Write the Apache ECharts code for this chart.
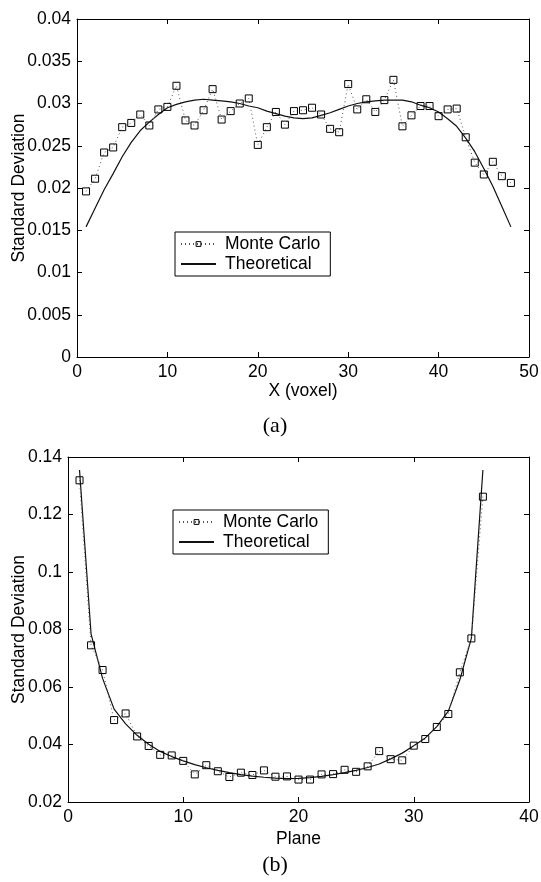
<!DOCTYPE html>
<html>
<head>
<meta charset="utf-8">
<title>Standard Deviation: Monte Carlo vs Theoretical</title>
<script src="https://cdn.jsdelivr.net/npm/echarts@6/dist/echarts.min.js"></script>
<style>
  html, body { margin: 0; padding: 0; background: #fff; }
  #chart { width: 541px; height: 882px; }
</style>
</head>
<body>
<div id="chart"></div>
<script>
// (a) standard deviation along X, voxels 1..48
const voxelX = Array.from({ length: 48 }, (_, i) => i + 1);
const voxelMonteCarlo = [
  0.0196, 0.0211, 0.0242, 0.0248, 0.0272, 0.0277, 0.0287, 0.0274, 0.0293, 0.0296,
  0.0321, 0.0280, 0.0274, 0.0292, 0.0317, 0.0281, 0.0291, 0.0300, 0.0306, 0.0251,
  0.0272, 0.0290, 0.0275, 0.0291, 0.0292, 0.0295, 0.0287, 0.0270, 0.0266, 0.0323,
  0.0293, 0.0305, 0.0290, 0.0304, 0.0328, 0.0273, 0.0286, 0.0297, 0.0297, 0.0285,
  0.0293, 0.0294, 0.0260, 0.0230, 0.0216, 0.0231, 0.0214, 0.0206
];
const voxelTheoretical = [
  0.0154, 0.0176, 0.0198, 0.0217, 0.0237, 0.0254, 0.0268, 0.0278, 0.0287, 0.0295,
  0.0299, 0.0302, 0.0304, 0.0305, 0.0304, 0.0303, 0.0302, 0.0300, 0.0297, 0.0295,
  0.0291, 0.0288, 0.0285, 0.0283, 0.0282, 0.0283, 0.0286, 0.0289, 0.0293, 0.0297,
  0.0300, 0.0302, 0.0303, 0.0304, 0.0304, 0.0304, 0.0302, 0.0298, 0.0295, 0.0290,
  0.0282, 0.0273, 0.0259, 0.0243, 0.0223, 0.0202, 0.0178, 0.0154
];

// (b) standard deviation per plane, planes 1..36
const planeX = Array.from({ length: 36 }, (_, i) => i + 1);
const planeMonteCarlo = [
  0.1319, 0.0745, 0.0659, 0.0485, 0.0508, 0.0428, 0.0395, 0.0364, 0.0362, 0.0343,
  0.0296, 0.0328, 0.0307, 0.0287, 0.0302, 0.0294, 0.0310, 0.0288, 0.0289, 0.0278,
  0.0278, 0.0296, 0.0297, 0.0312, 0.0305, 0.0324, 0.0377, 0.0349, 0.0345, 0.0396,
  0.0419, 0.0461, 0.0506, 0.0651, 0.0769, 0.1262
];
const planeTheoretical = [
  0.1355, 0.0785, 0.0630, 0.0523, 0.0472, 0.0432, 0.0401, 0.0376, 0.0358, 0.0343,
  0.0330, 0.0319, 0.0310, 0.0302, 0.0295, 0.0290, 0.0286, 0.0283, 0.0281, 0.0282,
  0.0285, 0.0289, 0.0295, 0.0302, 0.0310, 0.0320, 0.0332, 0.0350, 0.0370, 0.0396,
  0.0423, 0.0462, 0.0516, 0.0625, 0.0770, 0.1355
];

const seriesNames = ['Monte Carlo', 'Theoretical'];
const panelLabels = ['(a)', '(b)'];
const axisTitles = { voxelX: 'X (voxel)', planeX: 'Plane', y: 'Standard Deviation' };

const SANS = "'Liberation Sans', Arial, Helvetica, sans-serif";
const SERIF = "'Liberation Serif', 'Times New Roman', serif";
const FS = 17.5;

const pairs = (xs, ys) => xs.map((x, i) => [x, ys[i]]);
const cleanNum = v => String(+v.toFixed(4));

function axis(gridIndex, position, min, max, interval, withLabels, extra) {
  return Object.assign({
    type: 'value', gridIndex, position, min, max, interval,
    axisLine: { show: true, onZero: false, lineStyle: { color: '#000', width: 1 } },
    axisTick: { show: true, inside: true, length: 5, lineStyle: { color: '#000', width: 1 } },
    splitLine: { show: false },
    nameMoveOverlap: false,
    axisLabel: withLabels
      ? { show: true, color: '#000', fontSize: FS, fontFamily: SANS, margin: 6, formatter: cleanNum }
      : { show: false }
  }, extra || {});
}

const nameStyle = { color: '#000', fontSize: FS, fontFamily: SANS };

function monteCarlo(idx, data) {
  return {
    name: seriesNames[0], type: 'line', xAxisIndex: idx, yAxisIndex: idx,
    data, symbol: 'rect', symbolSize: 7, showSymbol: true,
    lineStyle: { type: [1, 3], width: 1, color: '#555' },
    itemStyle: { color: 'rgba(255,255,255,0)', borderColor: '#000', borderWidth: 1 },
    emphasis: { disabled: true }, z: 3
  };
}
function theoretical(idx, data) {
  return {
    name: seriesNames[1], type: 'line', xAxisIndex: idx, yAxisIndex: idx,
    data, showSymbol: false, symbol: 'none',
    lineStyle: { type: 'solid', width: 1.2, color: '#111' },
    itemStyle: { color: '#111' },
    emphasis: { disabled: true }, z: 2
  };
}

function legendAt(left, top) {
  return {
    left, top, orient: 'vertical',
    data: [
      { name: seriesNames[0], itemStyle: { borderWidth: 1, borderColor: '#000', color: 'rgba(255,255,255,0)' } },
      { name: seriesNames[1], itemStyle: { opacity: 0 } }
    ],
    backgroundColor: '#fff', borderColor: '#000', borderWidth: 1,
    padding: [3, 10, 3, 5], itemGap: 2, itemWidth: 35, itemHeight: 6,
    textStyle: { color: '#000', fontSize: FS, fontFamily: SANS, padding: [0, 0, 0, 4] },
    selectedMode: false
  };
}

const chart = echarts.init(document.getElementById('chart'), null, { renderer: 'canvas' });
chart.setOption({
  animation: false,
  backgroundColor: '#fff',
  grid: [
    { left: 77, top: 19, width: 452, height: 338, containLabel: false, outerBoundsMode: 'none' },
    { left: 68, top: 457, width: 461, height: 345, containLabel: false, outerBoundsMode: 'none' }
  ],
  xAxis: [
    axis(0, 'bottom', 0, 50, 10, true, { name: axisTitles.voxelX, nameLocation: 'middle', nameGap: 25, nameTextStyle: nameStyle }),
    axis(1, 'bottom', 0, 40, 10, true, { name: axisTitles.planeX, nameLocation: 'middle', nameGap: 28, nameTextStyle: nameStyle }),
    axis(0, 'top', 0, 50, 10, false),
    axis(1, 'top', 0, 40, 10, false)
  ],
  yAxis: [
    axis(0, 'left', 0, 0.04, 0.005, true, { name: axisTitles.y, nameLocation: 'middle', nameGap: 49, nameTextStyle: nameStyle }),
    axis(1, 'left', 0.02, 0.14, 0.02, true, { name: axisTitles.y, nameLocation: 'middle', nameGap: 40, nameTextStyle: nameStyle }),
    axis(0, 'right', 0, 0.04, 0.005, false),
    axis(1, 'right', 0.02, 0.14, 0.02, false)
  ],
  legend: [legendAt(175, 232), legendAt(173, 510)],
  series: [
    monteCarlo(0, pairs(voxelX, voxelMonteCarlo)),
    theoretical(0, pairs(voxelX, voxelTheoretical)),
    monteCarlo(1, pairs(planeX, planeMonteCarlo)),
    theoretical(1, pairs(planeX, planeTheoretical))
  ],
  graphic: [
    { type: 'text', x: 275, y: 426, style: { text: panelLabels[0], fill: '#000', font: '22px ' + SERIF, textAlign: 'center', textVerticalAlign: 'middle' } },
    { type: 'text', x: 275, y: 865, style: { text: panelLabels[1], fill: '#000', font: '22px ' + SERIF, textAlign: 'center', textVerticalAlign: 'middle' } }
  ]
});
</script>
</body>
</html>
